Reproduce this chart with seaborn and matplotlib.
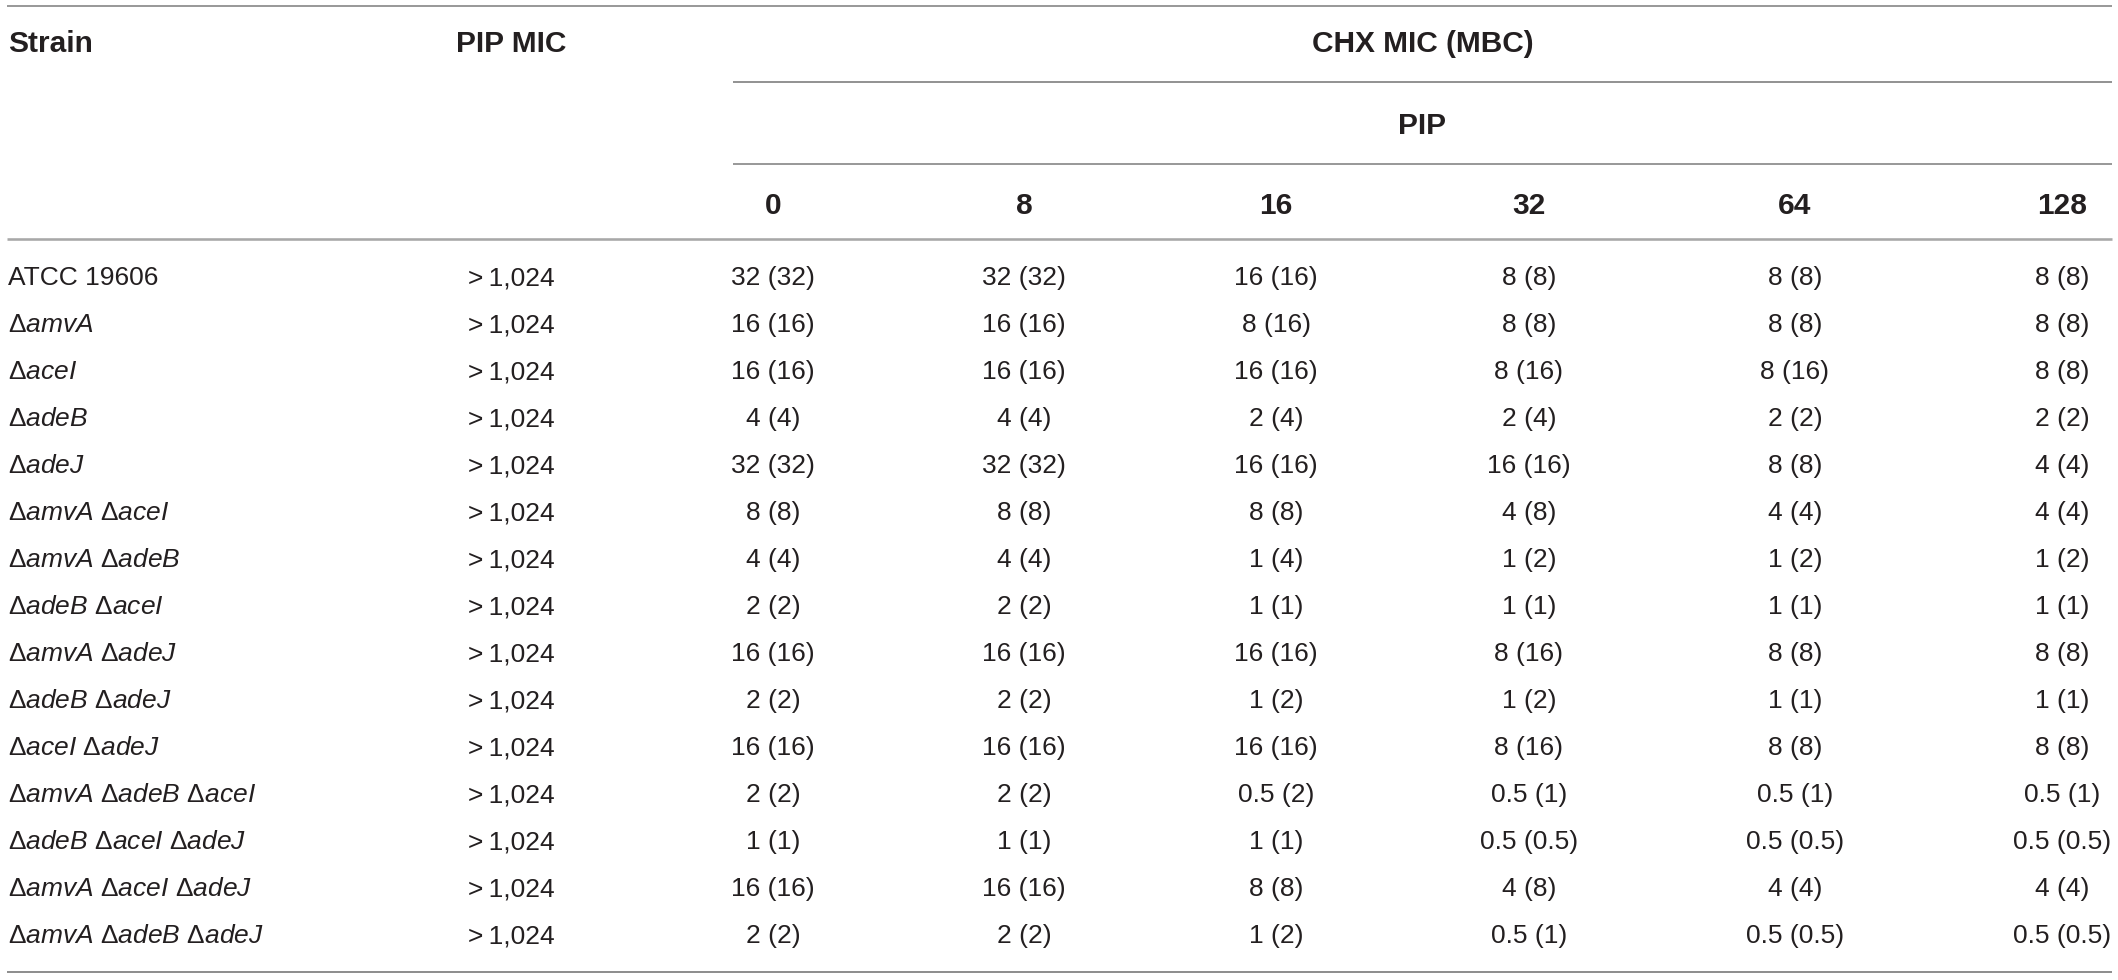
import pandas as pd
import seaborn as sns
import matplotlib.pyplot as plt

# ---- table content ----
strains = [
    "ATCC 19606",
    ["amvA"], ["aceI"], ["adeB"], ["adeJ"],
    ["amvA", "aceI"], ["amvA", "adeB"], ["adeB", "aceI"], ["amvA", "adeJ"],
    ["adeB", "adeJ"], ["aceI", "adeJ"],
    ["amvA", "adeB", "aceI"], ["adeB", "aceI", "adeJ"],
    ["amvA", "aceI", "adeJ"], ["amvA", "adeB", "adeJ"],
]
pip_mic = [">\u20091,024"] * 15
pip_conc = [0, 8, 16, 32, 64, 128]

chx_mic = [
    [32, 32, 16, 8, 8, 8],
    [16, 16, 8, 8, 8, 8],
    [16, 16, 16, 8, 8, 8],
    [4, 4, 2, 2, 2, 2],
    [32, 32, 16, 16, 8, 4],
    [8, 8, 8, 4, 4, 4],
    [4, 4, 1, 1, 1, 1],
    [2, 2, 1, 1, 1, 1],
    [16, 16, 16, 8, 8, 8],
    [2, 2, 1, 1, 1, 1],
    [16, 16, 16, 8, 8, 8],
    [2, 2, 0.5, 0.5, 0.5, 0.5],
    [1, 1, 1, 0.5, 0.5, 0.5],
    [16, 16, 8, 4, 4, 4],
    [2, 2, 1, 0.5, 0.5, 0.5],
]
chx_mbc = [
    [32, 32, 16, 8, 8, 8],
    [16, 16, 16, 8, 8, 8],
    [16, 16, 16, 16, 16, 8],
    [4, 4, 4, 4, 2, 2],
    [32, 32, 16, 16, 8, 4],
    [8, 8, 8, 8, 4, 4],
    [4, 4, 4, 2, 2, 2],
    [2, 2, 1, 1, 1, 1],
    [16, 16, 16, 16, 8, 8],
    [2, 2, 2, 2, 1, 1],
    [16, 16, 16, 16, 8, 8],
    [2, 2, 2, 1, 1, 1],
    [1, 1, 1, 0.5, 0.5, 0.5],
    [16, 16, 8, 8, 4, 4],
    [2, 2, 2, 1, 0.5, 0.5],
]


def strain_label(s):
    if isinstance(s, str):
        return s
    return " ".join(r"$\Delta\mathit{%s}$" % g for g in s)


rows = []
for i in range(len(strains)):
    for j, c in enumerate(pip_conc):
        rows.append({"row": i, "pip": c,
                     "cell": f"{chx_mic[i][j]:g} ({chx_mbc[i][j]:g})"})
long_df = pd.DataFrame(rows)

# ---- style ----
sns.set_theme(style="white")
plt.rcParams["font.family"] = ["Liberation Sans", "DejaVu Sans"]
plt.rcParams["mathtext.fontset"] = "custom"
plt.rcParams["mathtext.rm"] = "Liberation Sans"
plt.rcParams["mathtext.it"] = "Liberation Sans:italic"
plt.rcParams["mathtext.bf"] = "Liberation Sans:bold"

TXT = "#231f20"
W, H = 2118, 980
fig = plt.figure(figsize=(W / 100, H / 100), dpi=100)
ax = fig.add_axes([0, 0, 1, 1])
ax.set_xlim(0, W)
ax.set_ylim(H, 0)
ax.axis("off")

# layout (pixel units)
col_x = [773, 1024, 1276, 1529, 1795, 2062]
strain_x, pipmic_x = 8, 511
row0, row_h = 285, 47.0
hfs, bfs = 21.5, 19

# header
ax.text(strain_x, 52, "Strain", fontsize=hfs, fontweight="bold", color=TXT, va="baseline")
ax.text(pipmic_x, 52, "PIP MIC", fontsize=hfs, fontweight="bold", color=TXT, va="baseline", ha="center")
ax.text((733 + 2112) / 2, 52, "CHX MIC (MBC)", fontsize=hfs, fontweight="bold", color=TXT,
        va="baseline", ha="center")
ax.text((733 + 2112) / 2, 134, "PIP", fontsize=hfs, fontweight="bold", color=TXT,
        va="baseline", ha="center")
for x, c in zip(col_x, pip_conc):
    ax.text(x, 214, str(c), fontsize=hfs, fontweight="bold", color=TXT, va="baseline", ha="center")

# rules
px = 0.72
ax.hlines(6, 7, 2112, color="#9a9a9a", lw=2 * px)
ax.hlines(82, 733, 2112, color="#7a7a7a", lw=1.6 * px)
ax.hlines(164, 733, 2112, color="#9a9a9a", lw=2 * px)
ax.hlines(239, 7, 2112, color="#a8a8a8", lw=2.6 * px)
ax.hlines(972, 7, 2112, color="#8f8f8f", lw=2 * px)

# body
for i, s in enumerate(strains):
    y = row0 + i * row_h
    ax.text(strain_x, y, strain_label(s), fontsize=bfs, color=TXT, va="baseline")
    ax.text(pipmic_x, y, pip_mic[i], fontsize=bfs, color=TXT, va="baseline", ha="center")

for _, r in long_df.iterrows():
    x = col_x[pip_conc.index(r["pip"])]
    y = row0 + r["row"] * row_h
    ax.text(x, y, r["cell"], fontsize=bfs, color=TXT, va="baseline", ha="center")

fig.savefig("out.png", dpi=100, facecolor="white")
